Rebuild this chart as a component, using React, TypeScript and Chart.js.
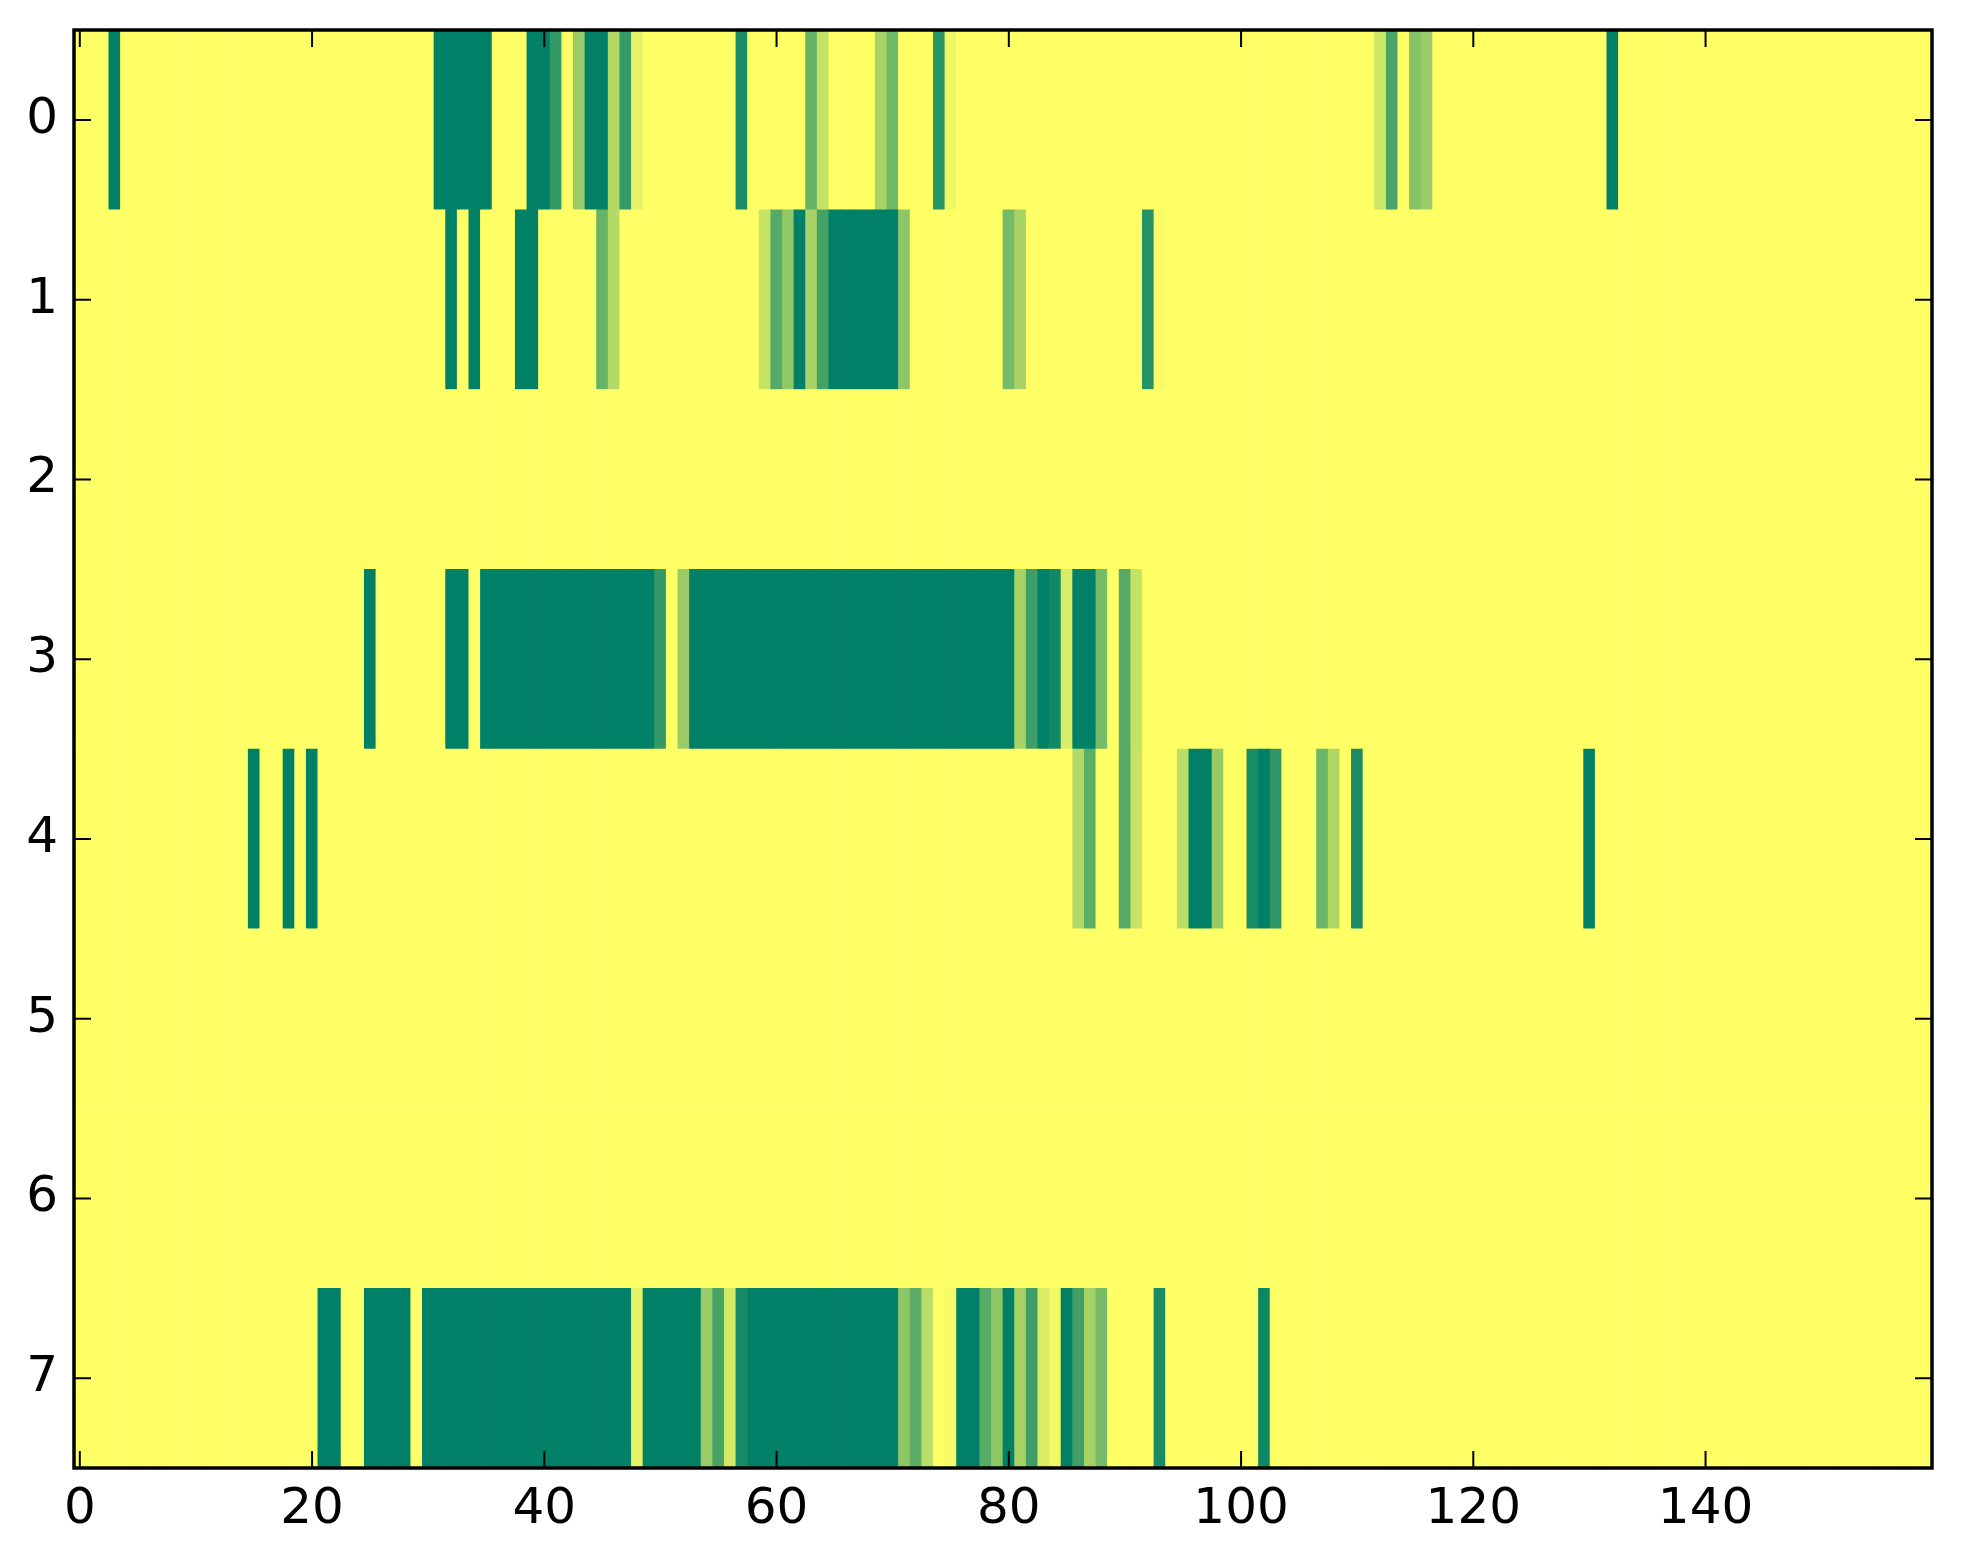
import React, { useEffect, useRef } from 'react';
import { Chart, registerables } from 'chart.js';

Chart.register(...registerables);

// Row labels (y axis), column count (x axis) and x tick labels
const ROW_LABELS = ['0', '1', '2', '3', '4', '5', '6', '7'];
const N_COLS = 160;
const X_TICKS = [0, 20, 40, 60, 80, 100, 120, 140];
const V_MAX = 100;

// Non-zero cells per row as runs: [firstCol, lastCol, value]; all other cells are 0
const row0: number[][] = [
  [3, 3, 100], [31, 35, 100], [39, 40, 100], [41, 41, 80], [43, 43, 40], [44, 45, 100],
  [46, 46, 30], [47, 47, 80], [48, 48, 10], [57, 57, 90], [63, 63, 60], [64, 64, 23],
  [69, 69, 34], [70, 70, 56], [74, 74, 84], [75, 75, 6], [112, 112, 20], [113, 113, 71],
  [115, 115, 47], [116, 116, 40], [132, 132, 100],
];
const row1: number[][] = [
  [32, 32, 100], [34, 34, 100], [38, 39, 100], [45, 45, 60], [46, 46, 30], [59, 59, 22],
  [60, 60, 67], [61, 61, 43], [62, 62, 100], [63, 63, 35], [64, 64, 73], [65, 70, 100],
  [71, 71, 45], [80, 80, 54], [81, 81, 35], [92, 92, 86], [93, 93, 2],
];
const row2: number[][] = [];
const row3: number[][] = [
  [25, 25, 100], [32, 33, 100], [35, 49, 100], [50, 50, 80], [52, 52, 40], [53, 80, 100],
  [81, 81, 35], [82, 82, 75], [83, 83, 100], [84, 84, 93], [85, 85, 15], [86, 87, 100],
  [88, 88, 54], [90, 90, 66], [91, 91, 23],
];
const row4: number[][] = [
  [15, 15, 100], [18, 18, 100], [20, 20, 100], [86, 86, 30], [87, 87, 64], [90, 90, 67],
  [91, 91, 22], [95, 95, 26], [96, 97, 100], [98, 98, 41], [101, 101, 90], [102, 102, 100],
  [103, 103, 82], [107, 107, 58], [108, 108, 31], [110, 110, 90], [130, 130, 100],
];
const row5: number[][] = [];
const row6: number[][] = [];
const row7: number[][] = [
  [21, 22, 100], [25, 28, 100], [30, 47, 100], [48, 48, 10], [49, 53, 100], [54, 54, 40],
  [55, 55, 72], [56, 56, 17], [57, 57, 91], [58, 70, 100], [71, 71, 45], [72, 72, 64],
  [73, 73, 26], [75, 75, 4], [76, 77, 100], [78, 78, 65], [79, 79, 45], [80, 80, 100],
  [81, 81, 35], [82, 82, 75], [83, 83, 14], [84, 84, 5], [85, 85, 100], [86, 86, 75],
  [87, 87, 35], [88, 88, 54], [93, 93, 90], [102, 102, 95],
];
const ROWS = [row0, row1, row2, row3, row4, row5, row6, row7];

// matplotlib "summer_r" colormap
function summerR(v: number): string {
  const t = Math.min(1, Math.max(0, v / V_MAX));
  const r = Math.round(255 * (1 - t));
  const g = Math.round(255 * (1 - t / 2));
  return `rgb(${r},${g},102)`;
}

function cellValue(runs: number[][], c: number): number {
  for (const [a, b, v] of runs) if (c >= a && c <= b) return v;
  return 0;
}

const FONT = { family: '"DejaVu Sans", sans-serif', size: 50 };

const frameTicks = {
  id: 'frameTicks',
  afterDraw(chart: any) {
    const { ctx, chartArea: a, scales } = chart;
    const x = scales.x;
    const y = scales.y;
    const L = 17;
    ctx.save();
    ctx.strokeStyle = '#000';
    ctx.lineWidth = 2;
    ctx.beginPath();
    X_TICKS.forEach((v) => {
      const px = x.getPixelForValue(v);
      ctx.moveTo(px, a.bottom);
      ctx.lineTo(px, a.bottom - L);
      ctx.moveTo(px, a.top);
      ctx.lineTo(px, a.top + L);
    });
    ROW_LABELS.forEach((_, i) => {
      const py = y.getPixelForValue(i);
      ctx.moveTo(a.left, py);
      ctx.lineTo(a.left + L, py);
      ctx.moveTo(a.right, py);
      ctx.lineTo(a.right - L, py);
    });
    ctx.stroke();
    ctx.lineWidth = 3.5;
    ctx.strokeRect(a.left, a.top, a.right - a.left, a.bottom - a.top);
    ctx.restore();
  },
};

export default function App() {
  const ref = useRef<HTMLCanvasElement | null>(null);

  useEffect(() => {
    if (!ref.current) return;
    const points: any[] = [];
    const colors: string[] = [];
    ROWS.forEach((runs, r) => {
      for (let c = 0; c < N_COLS; c++) {
        const v = cellValue(runs, c);
        points.push({ y: ROW_LABELS[r], x: [c - 0.5, c + 0.5] });
        colors.push(summerR(v));
      }
    });

    const chart = new Chart(ref.current, {
      type: 'bar',
      data: {
        labels: ROW_LABELS,
        datasets: [
          {
            data: points,
            backgroundColor: colors,
            borderWidth: 0,
            barPercentage: 1,
            categoryPercentage: 1,
          } as any,
        ],
      },
      plugins: [frameTicks],
      options: {
        indexAxis: 'y',
        responsive: false,
        animation: false,
        devicePixelRatio: 1,
        layout: { padding: { top: 30, right: 31, left: 0, bottom: 0 } },
        plugins: { legend: { display: false }, tooltip: { enabled: false } },
        scales: {
          x: {
            type: 'linear',
            min: -0.5,
            max: 159.5,
            grid: { display: false, drawTicks: false },
            border: { display: false },
            afterBuildTicks: (s: any) => {
              s.ticks = X_TICKS.map((v) => ({ value: v }));
            },
            afterFit: (s: any) => {
              s.height = 96;
              s.paddingLeft = 0;
              s.paddingRight = 0;
            },
            ticks: {
              color: '#000',
              font: FONT,
              padding: 12,
              maxRotation: 0,
              autoSkip: false,
              callback: (v: any) => String(v),
            },
          },
          y: {
            type: 'category',
            offset: true,
            grid: { display: false, drawTicks: false, offset: true },
            border: { display: false },
            afterFit: (s: any) => {
              s.width = 74;
              s.paddingTop = 0;
              s.paddingBottom = 0;
            },
            ticks: { color: '#000', font: FONT, padding: 16 },
          },
        },
      } as any,
    });
    return () => chart.destroy();
  }, []);

  return (
    <div style={{ position: 'absolute', left: 0, top: 0, width: 1963, height: 1564, background: '#fff' }}>
      <canvas ref={ref} width={1963} height={1564} style={{ width: 1963, height: 1564, display: 'block' }} />
    </div>
  );
}
